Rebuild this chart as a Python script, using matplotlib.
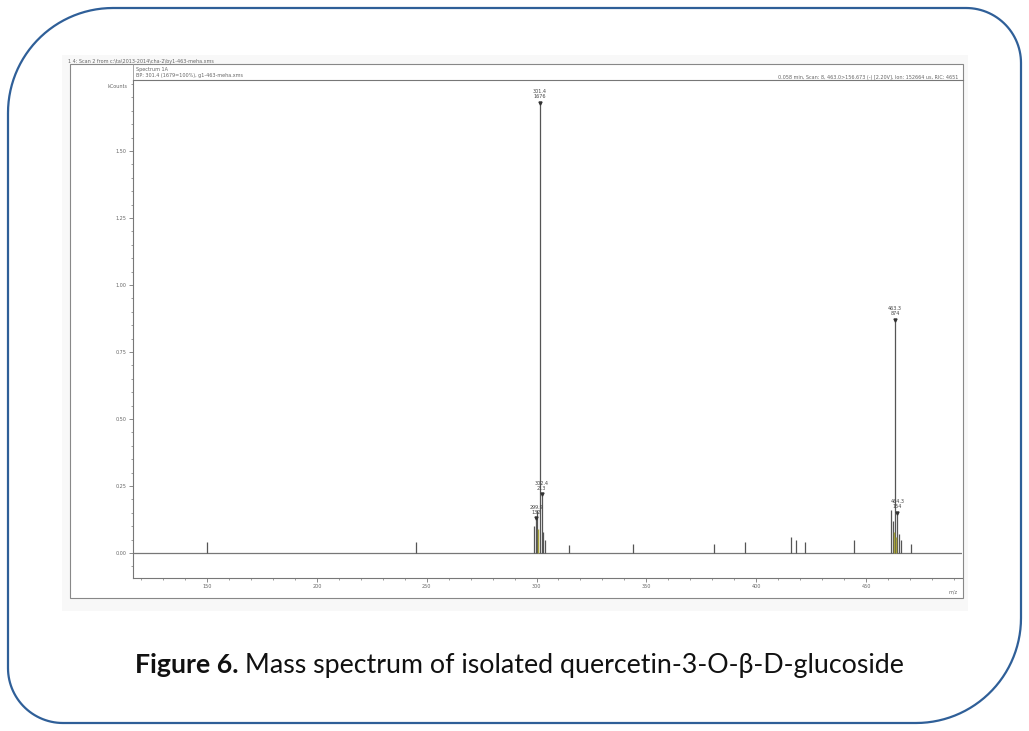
import matplotlib
matplotlib.use("Agg")
from matplotlib import pyplot as plt
from matplotlib.patches import Rectangle, PathPatch
from matplotlib.path import Path
import numpy as np

# spectrum peaks (m/z, kCounts)
mz = [150.0, 245.0, 298.9, 299.9, 300.4, 301.4, 302.4, 303.1, 304.0,
      315.0, 344.0, 381.0, 395.0, 415.8, 418.0, 422.0, 444.5,
      461.4, 462.3, 463.3, 464.3, 465.2, 466.1, 470.5]
intensity = [0.04, 0.04, 0.10, 0.13, 0.16, 1.68, 0.22, 0.08, 0.05,
             0.03, 0.035, 0.035, 0.04, 0.06, 0.05, 0.04, 0.05,
             0.16, 0.12, 0.87, 0.15, 0.07, 0.05, 0.035]

# labelled peaks
label_mz = [301.4, 302.4, 299.9, 463.3, 464.3]
label_int = [1.68, 0.22, 0.13, 0.87, 0.15]
label_txt = ["301.4\n1676", "302.4\n213", "299.9\n132", "463.3\n874", "464.3\n154"]

y_ticks = [0.00, 0.25, 0.50, 0.75, 1.00, 1.25, 1.50]
x_ticks = [150, 200, 250, 300, 350, 400, 450]

caption_bold = "Figure 6."
caption_rest = " Mass spectrum of isolated quercetin-3-O-\u03b2-D-glucoside"

W, H = 1029, 731
fig = plt.figure(figsize=(W / 100, H / 100), dpi=100)

# overlay in pixel coordinates
bg = fig.add_axes([0, 0, 1, 1])
bg.set_xlim(0, W)
bg.set_ylim(H, 0)
bg.axis("off")


def arc(cx, cy, r, a0, a1):
    t = np.radians(np.linspace(a0, a1, 30))
    return list(zip(cx + r * np.cos(t), cy + r * np.sin(t)))


# frame with big radius on top-left / bottom-right, smaller on the others
x0, y0, x1, y1 = 8, 8, W - 8, H - 8
rb, rs = 105, 55
pts = []
pts += arc(x0 + rb, y0 + rb, rb, 180, 270)
pts += arc(x1 - rs, y0 + rs, rs, 270, 360)
pts += arc(x1 - rb, y1 - rb, rb, 0, 90)
pts += arc(x0 + rs, y1 - rs, rs, 90, 180)
pts.append(pts[0])
bg.add_patch(PathPatch(Path(pts), fc="white", ec="#2f5f98", lw=1.6))

# scanned region
bg.add_patch(Rectangle((62, 55), 906, 556, fc="#f8f8f8", ec="none"))
bg.add_patch(Rectangle((70, 64), 893, 534, fc="white", ec="#888888", lw=0.8))
bg.plot([133, 963], [80, 80], color="#777777", lw=0.8)
bg.plot([133, 133], [64, 80], color="#999999", lw=0.6)

gray = "#666666"
bg.text(68, 61, "1 4: Scan 2 from c:\\ta\\2013-2014\\cha-2\\by1-463-meha.xms",
        fontsize=3.5, color=gray, va="center")
bg.text(136, 69, "Spectrum 1A", fontsize=3.5, color=gray, va="center")
bg.text(136, 76, "BP: 301.4 (1679=100%), g1-463-meha.xms", fontsize=3.5,
        color=gray, va="center")
bg.text(958, 77, "0.058 min, Scan: 8, 463.0>156.673 (-) [2.20V], Ion: 152664 us, RIC: 4651",
        fontsize=3.5, color=gray, va="center", ha="right")
bg.text(128, 86, "kCounts", fontsize=3.5, color=gray, va="center", ha="right")
bg.text(958, 592, "m/z", fontsize=3.5, color=gray, va="center", ha="right")

# caption drawn as two pieces
t1 = bg.text(135, 665, caption_bold, fontsize=19.3, fontweight="bold",
             family="Lato", ha="left", va="center", color="#111111")
fig.canvas.draw()
bb = t1.get_window_extent()
bg.text(bb.x1, H - 665, caption_rest, fontsize=19.3, family="Lato",
        ha="left", va="center", color="#111111", transform=None)

# spectrum axes
ax = fig.add_axes([133 / W, 1 - 578 / H, (962 - 133) / W, (578 - 80) / H])
ax.set_xlim(116.3, 493.7)
ax.set_ylim(-0.093, 1.765)
ax.patch.set_alpha(0)
for s in ["top", "right"]:
    ax.spines[s].set_visible(False)
ax.spines["left"].set_color("#777777")
ax.spines["bottom"].set_color("#777777")
ax.spines["left"].set_linewidth(0.8)
ax.spines["bottom"].set_linewidth(0.8)

ax.axhline(0, color="#777777", lw=0.9)
ax.vlines(mz, 0, intensity, color="#555555", lw=0.9)
ax.vlines([300.9, 462.8, 463.8], 0, [0.09, 0.08, 0.06], color="#a8a33a", lw=1.0)

for m, i, t in zip(label_mz, label_int, label_txt):
    ax.plot(m, i, marker="v", color="#333333", ms=2.2)
    ax.annotate(t, (m, i), xytext=(0, 2.5), textcoords="offset points",
                ha="center", va="bottom", fontsize=3.5, color="#444444",
                linespacing=1.0)

ax.set_yticks(y_ticks)
ax.set_yticklabels([f"{v:.2f}" for v in y_ticks])
ax.set_yticks(np.arange(-0.05, 1.76, 0.05), minor=True)
ax.set_xticks(x_ticks)
ax.set_xticks(np.arange(120, 491, 10), minor=True)
ax.tick_params(axis="both", which="major", labelsize=3.5, colors="#777777",
               labelcolor=gray, length=3, width=0.6, pad=1.5)
ax.tick_params(axis="both", which="minor", colors="#777777", length=1.5, width=0.5)

fig.savefig("out.png", dpi=100)
